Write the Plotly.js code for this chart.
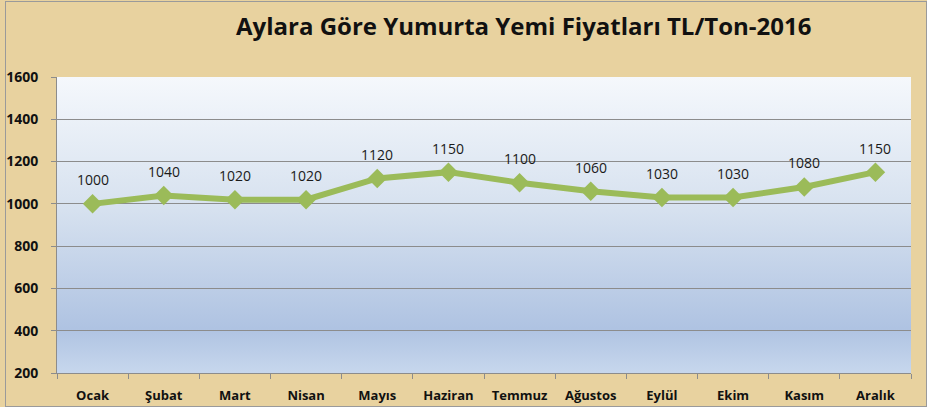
<!DOCTYPE html>
<html>
<head>
<meta charset="utf-8">
<script src="https://cdn.plot.ly/plotly-3.0.1.min.js"></script>
<style>
  html, body { margin: 0; padding: 0; background: #E8D29F; }
  #wrap { position: relative; width: 927px; height: 407px; overflow: hidden; }
  #chart { position: absolute; left: 0; top: 0; width: 927px; height: 407px; }
  #frame { position: absolute; left: 5px; top: 1px; width: 920px; height: 404px; border: 1px solid #9a9a9a; pointer-events: none; }
</style>
</head>
<body>
<div id="wrap">
  <div id="chart"></div>
  <div id="frame"></div>
</div>
<script>
var months = ["Ocak", "Şubat", "Mart", "Nisan", "Mayıs", "Haziran", "Temmuz", "Ağustos", "Eylül", "Ekim", "Kasım", "Aralık"];
var prices = [1000, 1040, 1020, 1020, 1120, 1150, 1100, 1060, 1030, 1030, 1080, 1150];
var yTicks = [200, 400, 600, 800, 1000, 1200, 1400, 1600];
var chartTitle = "Aylara Göre Yumurta Yemi Fiyatları TL/Ton-2016";

var gradSvg = '<svg xmlns="http://www.w3.org/2000/svg" width="100" height="100" preserveAspectRatio="none">' +
  '<defs><linearGradient id="g" x1="0" y1="0" x2="0" y2="1">' +
  '<stop offset="0" stop-color="#F5F8FC"/>' +
  '<stop offset="0.45" stop-color="#D6E1EF"/>' +
  '<stop offset="0.85" stop-color="#AFC3E2"/>' +
  '<stop offset="1" stop-color="#C7D7ED"/>' +
  '</linearGradient></defs><rect width="100" height="100" fill="url(#g)"/></svg>';
var gradUri = 'data:image/svg+xml;base64,' + btoa(gradSvg);

var trace = {
  x: months,
  y: prices,
  type: 'scatter',
  mode: 'lines+markers',
  line: { color: '#9BBB59', width: 6 },
  marker: { symbol: 'diamond', size: 15, color: '#9BBB59' },
  cliponaxis: false,
  hoverinfo: 'x+y'
};

var labelAnnotations = months.map(function (m, i) {
  return {
    x: m, y: prices[i], xref: 'x', yref: 'y',
    text: String(prices[i]),
    showarrow: false,
    yshift: 24,
    font: { family: 'Open Sans, sans-serif', size: 14, color: '#1a1a1a' }
  };
});

var layout = {
  width: 927,
  height: 407,
  margin: { l: 57, r: 16, t: 77, b: 34 },
  paper_bgcolor: '#E8D29F',
  plot_bgcolor: 'rgba(0,0,0,0)',
  showlegend: false,
  title: {
    text: '<b>' + chartTitle + '</b>',
    font: { family: 'Open Sans, sans-serif', size: 24, color: '#111' },
    x: 0.565, xanchor: 'center',
    y: 0.935, yanchor: 'middle'
  },
  annotations: labelAnnotations,
  images: [{
    source: gradUri,
    xref: 'paper', yref: 'paper',
    x: 0, y: 1, sizex: 1, sizey: 1,
    xanchor: 'left', yanchor: 'top',
    sizing: 'stretch',
    layer: 'below'
  }],
  xaxis: {
    type: 'category',
    range: [-0.5, 11.5],
    tickson: 'boundaries',
    ticks: 'outside',
    ticklen: 5,
    tickcolor: '#8c8c8c',
    showgrid: false,
    showline: true,
    linecolor: '#8c8c8c',
    linewidth: 1,
    tickfont: { family: 'Open Sans, sans-serif', size: 13, color: '#111', weight: 'bold' },
    ticklabelstandoff: 10,
    fixedrange: true
  },
  yaxis: {
    range: [200, 1600],
    tickvals: yTicks,
    ticks: 'outside',
    ticklen: 5,
    tickcolor: '#8c8c8c',
    showgrid: true,
    gridcolor: '#8c8c8c',
    gridwidth: 1,
    showline: true,
    linecolor: '#8c8c8c',
    linewidth: 1,
    zeroline: false,
    tickfont: { family: 'Open Sans, sans-serif', size: 14, color: '#111', weight: 'bold' },
    ticklabelstandoff: 10,
    fixedrange: true
  }
};

Plotly.newPlot('chart', [trace], layout, { displayModeBar: false, staticPlot: true });
</script>
</body>
</html>
